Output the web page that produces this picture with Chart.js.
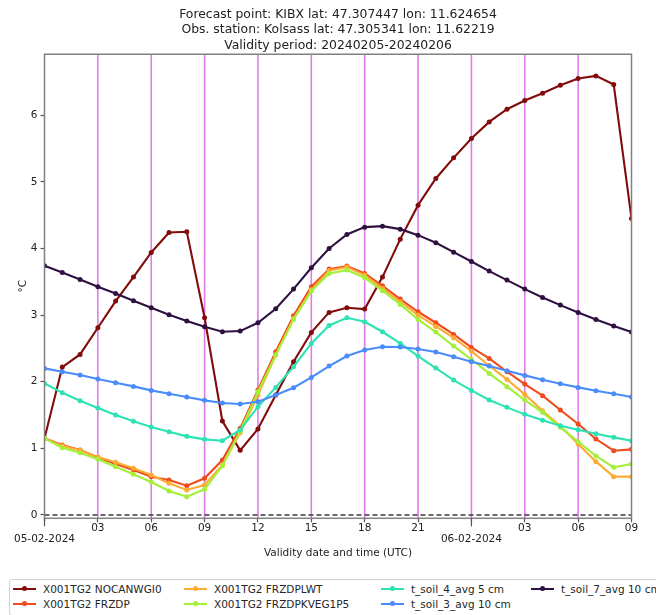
<!DOCTYPE html>
<html>
<head>
<meta charset="utf-8">
<script src="https://cdn.jsdelivr.net/npm/chart.js@4.4.1/dist/chart.umd.min.js"></script>
<style>
  html, body { margin: 0; padding: 0; background: #fff; }
  #wrap { position: relative; width: 656px; height: 615px; overflow: hidden; }
  #legend {
    position: absolute; left: 9px; top: 579px; width: 690px; height: 35px;
    border: 1px solid #d2d2d2; border-radius: 3px; background: #fff;
    font-family: 'DejaVu Sans', sans-serif; font-size: 10.5px; color: #262626;
  }
  .item { position: absolute; display: flex; align-items: center; white-space: nowrap; height: 14px; }
  .swatch { position: relative; width: 23px; height: 2px; margin-right: 7px; }
  .swatch i { position: absolute; left: 9px; top: -2px; width: 5px; height: 5px; border-radius: 50%; }
</style>
</head>
<body>
<div id="wrap">
  <canvas id="forecastChart" width="656" height="615"></canvas>
  <div id="legend"></div>
</div>
<script>
// hours since 05-02-2024 00 UTC
const HOURS = [0, 1, 2, 3, 4, 5, 6, 7, 8, 9, 10, 11, 12, 13, 14, 15, 16,
               17, 18, 19, 20, 21, 22, 23, 24, 25, 26, 27, 28, 29, 30, 31, 32, 33];

const NOCANWGI0 = [1.15, 2.22, 2.41, 2.81, 3.21, 3.57, 3.94, 4.24, 4.25, 2.96, 1.41, 0.97, 1.29, 1.80, 2.30, 2.74, 3.04,
                   3.11, 3.09, 3.57, 4.14, 4.65, 5.05, 5.36, 5.65, 5.90, 6.09, 6.22, 6.33, 6.45, 6.55, 6.59, 6.46, 4.45];
const FRZDP = [1.15, 1.05, 0.975, 0.865, 0.765, 0.675, 0.575, 0.525, 0.44, 0.55, 0.825, 1.30, 1.875, 2.45, 2.99, 3.425, 3.69,
               3.735, 3.625, 3.44, 3.24, 3.05, 2.885, 2.71, 2.515, 2.35, 2.15, 1.965, 1.79, 1.575, 1.365, 1.14, 0.965, 0.985];
const FRZDPLWT = [1.15, 1.04, 0.97, 0.87, 0.79, 0.70, 0.60, 0.475, 0.375, 0.45, 0.75, 1.235, 1.80, 2.40, 2.95, 3.38, 3.67,
                  3.72, 3.60, 3.40, 3.20, 3.00, 2.83, 2.66, 2.46, 2.24, 2.035, 1.81, 1.565, 1.335, 1.065, 0.80, 0.575, 0.575];
const FRZDPKVEG1P5 = [1.15, 1.01, 0.935, 0.835, 0.725, 0.61, 0.495, 0.36, 0.275, 0.385, 0.74, 1.26, 1.85, 2.40, 2.935, 3.36, 3.625,
                      3.675, 3.56, 3.365, 3.16, 2.935, 2.745, 2.535, 2.335, 2.125, 1.925, 1.725, 1.54, 1.315, 1.10, 0.885, 0.715, 0.765];
const T_SOIL_4 = [1.975, 1.835, 1.715, 1.605, 1.50, 1.405, 1.32, 1.25, 1.18, 1.135, 1.115, 1.275, 1.625, 1.915, 2.225, 2.575, 2.845,
                  2.96, 2.90, 2.75, 2.575, 2.385, 2.205, 2.025, 1.87, 1.725, 1.615, 1.51, 1.42, 1.34, 1.28, 1.22, 1.165, 1.115];
const T_SOIL_3 = [2.20, 2.15, 2.10, 2.04, 1.985, 1.93, 1.87, 1.82, 1.77, 1.72, 1.68, 1.665, 1.70, 1.80, 1.91, 2.065, 2.235,
                  2.385, 2.475, 2.525, 2.52, 2.49, 2.445, 2.375, 2.30, 2.235, 2.165, 2.095, 2.03, 1.97, 1.915, 1.865, 1.82, 1.77];
const T_SOIL_7 = [3.74, 3.64, 3.535, 3.425, 3.325, 3.215, 3.11, 3.005, 2.91, 2.825, 2.75, 2.76, 2.885, 3.095, 3.39, 3.71, 4.00,
                  4.21, 4.32, 4.335, 4.29, 4.20, 4.085, 3.945, 3.805, 3.66, 3.525, 3.39, 3.265, 3.15, 3.04, 2.935, 2.835, 2.745];

const TICK_HOURS = [0, 3, 6, 9, 12, 15, 18, 21, 24, 27, 30, 33];
const TICK_LABELS = [['', '05-02-2024'], '03', '06', '09', '12', '15', '18', '21', ['', '06-02-2024'], '03', '06', '09'];
const MAJOR_TICK_HOURS = [0, 24];
const VLINE_HOURS = [3, 6, 9, 12, 15, 18, 21, 24, 27, 30];
const Y_TICKS = [0, 1, 2, 3, 4, 5, 6];
const ZERO_LEVEL = 0;

const TITLE_LINES = [
    'Forecast point: KIBX lat: 47.307447 lon: 11.624654',
    'Obs. station: Kolsass lat: 47.305341 lon: 11.62219',
    'Validity period: 20240205-20240206'
];

const FONT = 'DejaVu Sans';
const TEXT_COLOR = '#222';

// series in legend order (column by column)
const SERIES = [
    { label: 'X001TG2 NOCANWGI0', values: NOCANWGI0, color: '#820b0b' },
    { label: 'X001TG2 FRZDP', values: FRZDP, color: '#ef4b1c' },
    { label: 'X001TG2 FRZDPLWT', values: FRZDPLWT, color: '#fcac34' },
    { label: 'X001TG2 FRZDPKVEG1P5', values: FRZDPKVEG1P5, color: '#a3ef3a' },
    { label: 't_soil_4_avg 5 cm', values: T_SOIL_4, color: '#2de3b4' },
    { label: 't_soil_3_avg 10 cm', values: T_SOIL_3, color: '#4b8cfc' },
    { label: 't_soil_7_avg 10 cm', values: T_SOIL_7, color: '#2f1141' }
];

// magenta guide lines, frame and the longer day ticks
const guidesPlugin = {
    id: 'guides',
    beforeDatasetsDraw(chart) {
        const { ctx, chartArea, scales } = chart;
        ctx.save();
        ctx.strokeStyle = '#e07ce9';
        ctx.lineWidth = 1.6;
        VLINE_HOURS.forEach(h => {
            const x = scales.x.getPixelForValue(h);
            ctx.beginPath();
            ctx.moveTo(x, chartArea.top);
            ctx.lineTo(x, chartArea.bottom);
            ctx.stroke();
        });
        ctx.restore();
    },
    afterDatasetsDraw(chart) {
        const { ctx, chartArea, scales } = chart;
        ctx.save();
        ctx.strokeStyle = '#808080';
        ctx.lineWidth = 1.5;
        ctx.strokeRect(chartArea.left, chartArea.top, chartArea.right - chartArea.left, chartArea.bottom - chartArea.top);
        ctx.strokeStyle = '#555';
        ctx.lineWidth = 1.2;
        MAJOR_TICK_HOURS.forEach(h => {
            const x = scales.x.getPixelForValue(h);
            ctx.beginPath();
            ctx.moveTo(x, chartArea.bottom);
            ctx.lineTo(x, chartArea.bottom + 8);
            ctx.stroke();
        });
        ctx.restore();
    }
};

function buildDatasets() {
    const datasets = SERIES.map((s, i) => ({
        label: s.label,
        data: HOURS.map((h, j) => ({ x: h, y: s.values[j] })),
        borderColor: s.color,
        backgroundColor: s.color,
        pointBackgroundColor: s.color,
        pointBorderColor: s.color,
        borderWidth: 2.1,
        pointRadius: 2.5,
        pointBorderWidth: 0,
        tension: 0,
        order: 20 - i
    }));
    datasets.push({
        label: 'zero',
        data: [{ x: HOURS[0], y: ZERO_LEVEL }, { x: HOURS[HOURS.length - 1], y: ZERO_LEVEL }],
        borderColor: '#3a3a3a',
        borderWidth: 1.5,
        borderDash: [5, 3],
        pointRadius: 0,
        order: 1
    });
    return datasets;
}

function renderLegend() {
    const box = document.getElementById('legend');
    const colX = [3, 174, 371, 521];
    const rowY = [2, 17];
    const slots = [[0, 0], [0, 1], [1, 0], [1, 1], [2, 0], [2, 1], [3, 0]];
    SERIES.forEach((s, i) => {
        const [c, r] = slots[i];
        const item = document.createElement('div');
        item.className = 'item';
        item.style.left = colX[c] + 'px';
        item.style.top = rowY[r] + 'px';
        item.innerHTML = `<span class="swatch" style="background:${s.color}"><i style="background:${s.color}"></i></span><span>${s.label}</span>`;
        box.appendChild(item);
    });
}

new Chart(document.getElementById('forecastChart'), {
    type: 'line',
    data: { datasets: buildDatasets() },
    options: {
        responsive: false,
        animation: false,
        devicePixelRatio: 1,
        layout: { padding: { left: 0, right: 24.5, top: 0, bottom: 51.7 } },
        plugins: {
            legend: { display: false },
            tooltip: { enabled: false },
            title: {
                display: true,
                fullSize: false,
                text: TITLE_LINES,
                color: TEXT_COLOR,
                font: { family: FONT, size: 12.4, weight: 'normal', lineHeight: '15.5px' },
                padding: { top: 6.75, bottom: 1 }
            }
        },
        scales: {
            x: {
                type: 'linear',
                min: HOURS[0],
                max: HOURS[HOURS.length - 1],
                afterBuildTicks: scale => { scale.ticks = TICK_HOURS.map(v => ({ value: v })); },
                afterFit: scale => { scale.height = 45; },
                ticks: {
                    autoSkip: false,
                    maxRotation: 0,
                    padding: 0.5,
                    color: TEXT_COLOR,
                    font: { family: FONT, size: 10.5, lineHeight: '11px' },
                    callback: value => {
                        const i = TICK_HOURS.indexOf(value);
                        return i >= 0 ? TICK_LABELS[i] : '';
                    }
                },
                grid: { drawOnChartArea: false, drawTicks: true, tickLength: 4, tickColor: '#555', tickWidth: 1.2 },
                border: { display: false },
                title: {
                    display: true,
                    text: 'Validity date and time (UTC)',
                    color: TEXT_COLOR,
                    font: { family: FONT, size: 10.5 },
                    padding: { top: 0, bottom: 4 }
                }
            },
            y: {
                min: -0.05,
                max: 6.915,
                afterBuildTicks: scale => { scale.ticks = Y_TICKS.map(v => ({ value: v })); },
                afterFit: scale => { scale.width = 44.5; },
                ticks: {
                    padding: 3,
                    color: TEXT_COLOR,
                    font: { family: FONT, size: 10.5 }
                },
                grid: { drawOnChartArea: false, drawTicks: true, tickLength: 4, tickColor: '#555', tickWidth: 1.2 },
                border: { display: false },
                title: {
                    display: true,
                    text: '°C',
                    color: TEXT_COLOR,
                    font: { family: FONT, size: 10.5 },
                    padding: { top: 16.5, bottom: 0 }
                }
            }
        }
    },
    plugins: [guidesPlugin]
});

renderLegend();
</script>
</body>
</html>
